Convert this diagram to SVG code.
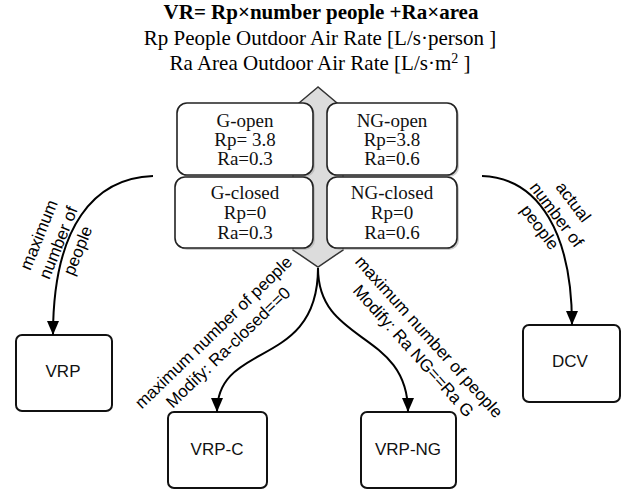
<svg xmlns="http://www.w3.org/2000/svg" width="626" height="490" viewBox="0 0 626 490">
<style>
.title{font-family:"Liberation Serif",serif;font-size:21px;fill:#000;text-anchor:middle}
.bt{font-family:"Liberation Serif",serif;font-size:19px;fill:#111;text-anchor:middle}
.st{fill:#fff;stroke:#222;stroke-width:1.6}
.sh{fill:#aaa;stroke:none;opacity:0.6}
.box{fill:#fff;stroke:#111;stroke-width:2}
.lbl{font-family:"Liberation Sans",Arial,sans-serif;font-size:17px;fill:#000;text-anchor:middle}
.nt{font-family:"Liberation Sans",Arial,sans-serif;font-size:17px;fill:#111;text-anchor:middle}
.edge{fill:none;stroke:#000;stroke-width:2}
</style>
<defs>
<marker id="arr" markerUnits="userSpaceOnUse" markerWidth="14" markerHeight="12" viewBox="0 0 14 12" refX="14" refY="6" orient="auto">
<path d="M0,0 L14,6 L0,12 z" fill="#000"/>
</marker>
</defs>
<rect width="626" height="490" fill="#fff"/>
<g id="header">
<text class="title" x="321" y="19" font-weight="bold">VR= Rp×number people +Ra×area</text>
<text class="title" x="320" y="45">Rp People Outdoor Air Rate [L/s·person ]</text>
<text class="title" x="320" y="70">Ra Area Outdoor Air Rate [L/s·m<tspan font-size="14" dy="-7">2</tspan><tspan dy="7"> ]</tspan></text>
</g>
<g id="hub">
<polygon points="318,87 293,108 293,250 318,267 343,250 343,108" fill="#dcdcdc" stroke="#333" stroke-width="1.5"/>
</g>
<g id="g-open">
<rect class="sh" x="179" y="105" width="136" height="72" rx="10"/>
<rect class="st" x="177" y="103" width="136" height="72" rx="10"/>
<text class="bt" x="245" y="127">G-open</text>
<text class="bt" x="245" y="146">Rp= 3.8</text>
<text class="bt" x="245" y="165">Ra=0.3</text>
</g>
<g id="ng-open">
<rect class="sh" x="329" y="105" width="130" height="72" rx="10"/>
<rect class="st" x="327" y="103" width="130" height="72" rx="10"/>
<text class="bt" x="392" y="127">NG-open</text>
<text class="bt" x="392" y="146">Rp=3.8</text>
<text class="bt" x="392" y="165">Ra=0.6</text>
</g>
<g id="g-closed">
<rect class="sh" x="177" y="179" width="138" height="71" rx="10"/>
<rect class="st" x="175" y="177" width="138" height="71" rx="10"/>
<text class="bt" x="245" y="199">G-closed</text>
<text class="bt" x="245" y="219">Rp=0</text>
<text class="bt" x="245" y="239">Ra=0.3</text>
</g>
<g id="ng-closed">
<rect class="sh" x="329" y="179" width="130" height="71" rx="10"/>
<rect class="st" x="327" y="177" width="130" height="71" rx="10"/>
<text class="bt" x="392" y="199">NG-closed</text>
<text class="bt" x="392" y="219">Rp=0</text>
<text class="bt" x="392" y="239">Ra=0.6</text>
</g>
<g id="vrp">
<rect class="box" x="16" y="335" width="96" height="76" rx="6"/>
<text class="nt" x="63" y="377">VRP</text>
</g>
<g id="dcv">
<rect class="box" x="523" y="325" width="97" height="77" rx="6"/>
<text class="nt" x="570" y="367">DCV</text>
</g>
<g id="vrp-c">
<rect class="box" x="168" y="412" width="99" height="76" rx="6"/>
<text class="nt" x="217" y="455">VRP-C</text>
</g>
<g id="vrp-ng">
<rect class="box" x="361" y="412" width="95" height="76" rx="6"/>
<text class="nt" x="408" y="455">VRP-NG</text>
</g>
<g id="connectors">
<path class="edge" d="M153,176 C95,178 53,225 53,335" marker-end="url(#arr)"/>
<path class="edge" d="M482,176 C540,178 572,235 572,325" marker-end="url(#arr)"/>
<path class="edge" d="M318,268 C318,370 217,340 217,412" marker-end="url(#arr)"/>
<path class="edge" d="M318,268 C318,345 408,330 408,412" marker-end="url(#arr)"/>
<text class="lbl" transform="translate(59,243) rotate(-68)"><tspan x="0" y="-16">maximum</tspan><tspan x="0" y="5">number of</tspan><tspan x="0" y="26">people</tspan></text>
<text class="lbl" transform="translate(556,215) rotate(53)"><tspan x="0" y="-16">actual</tspan><tspan x="0" y="5">number of</tspan><tspan x="0" y="26">people</tspan></text>
<text class="lbl" transform="translate(221,340) rotate(-44)"><tspan x="0" y="-5">maximum number of people</tspan><tspan x="0" y="16">Modify: Ra-closed==0</tspan></text>
<text class="lbl" transform="translate(421,344) rotate(48)"><tspan x="0" y="-5">maximum number of people</tspan><tspan x="0" y="16">Modify: Ra NG==Ra G</tspan></text>
</g>
</svg>
